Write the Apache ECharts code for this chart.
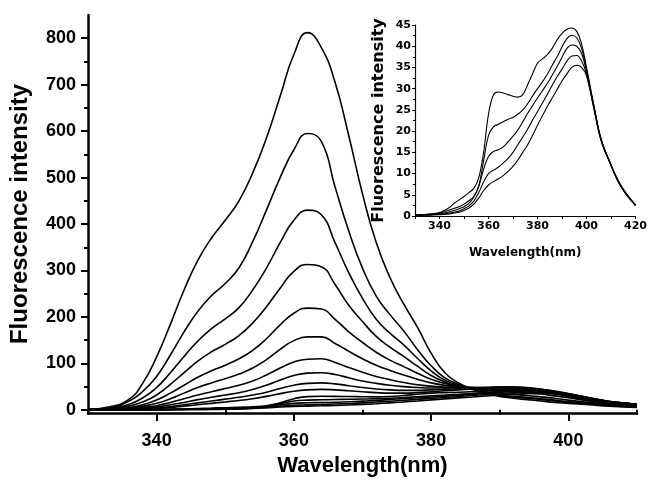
<!DOCTYPE html>
<html><head><meta charset="utf-8">
<script src="https://cdn.jsdelivr.net/npm/echarts@6/dist/echarts.min.js"></script>
<style>html,body{margin:0;padding:0;background:#fff}#c{width:650px;height:482px}</style>
</head><body><div id="c"></div>
<script>
// wavelength grid (nm)
const wavelengths = [330,333,336,338,340,342,344,346,348,350,352,354,356,358,360,362,364,366,368,370,372,374,376,378,380,382,384,386,388,390,392,394,396,398,400,403,406,410,413,416,420];

// main chart tick values
const mainYTicks = [0,100,200,300,400,500,600,700,800];
const mainYMinorTicks = [50,150,250,350,450,550,650,750];
const mainXTicks = [340,360,380,400];
const mainXMinorTicks = [330,350,370,390,410];
const insetXLabels = [340,360,380,400,420];

// low-concentration spectra (also shown in the inset)
const c1 = [0.1,0.2,0.2,0.3,0.3,0.4,0.5,0.7,0.9,1.3,1.9,2.8,4.2,6,7.3,8.1,8.7,9.5,10.5,11.7,13.2,15,16.8,19,21.4,23.6,25.8,27.8,29.8,31.8,33.5,35,35.5,35,33,25.3,17.6,11.9,8,5.2,2.5];
const c2 = [0.1,0.2,0.3,0.3,0.4,0.5,0.7,0.9,1.2,1.7,2.4,3.5,5.5,8,10,10.8,11.5,12.5,13.6,15,16.8,18.6,20.5,22.6,24.6,26.6,28.7,30.8,32.8,34.6,36.5,37.7,37.8,36.5,33.5,25.5,17.8,12,8,5.3,2.5];
const c3 = [0.2,0.3,0.3,0.4,0.5,0.7,1,1.3,1.7,2.2,3,4.5,7,11,14,15.2,15.6,16.3,17.5,18.8,20.3,22.2,24.2,26,27.8,29.5,31.2,33.2,35.2,37.4,39.5,40.3,40,38.3,34,25.8,18,12,8.1,5.3,2.5];
const c4 = [0.2,0.3,0.4,0.5,0.7,1,1.4,1.8,2.2,2.8,3.6,4.6,7,13,19,21,21.6,22.2,22.8,23.2,24,25,26.5,28.3,30,31.6,33.4,35.5,37.5,39.8,41.8,42.6,42,39.5,34.5,26,18,12,8.2,5.4,2.5];
const c5 = [0.2,0.3,0.5,0.6,0.8,1.3,2,3,3.8,4.6,5.5,6.5,9,15,24,28.5,29.2,29,28.6,28.2,28,28.6,31,33.5,36,37,38,39.5,41.5,43,44,44.3,43.5,40.5,35,26,18,12,8.3,5.5,2.6];
// higher-concentration spectra (main chart only, 330-410 nm)
const c6 = [0.2,0.5,1.2,2,3,5,8,11,14,17,20,24,29,35,40,43,44,43,41,39,37,36,36,37,39,41,43,45,47,48,48,47,44,39,33,25,17,10];
const c7 = [0.2,0.6,1.5,2.5,4,7,11,15,19,23,27,32,38,46,53,57,58,56,52,48,45,43,42,42,43,44,46,47,48,49,49,48,44,39,33,25,16,9];
const c8 = [0.2,0.8,2,3.5,6,11,16,22,27,32,37,44,53,64,74,79,80,76,69,62,57,53,50,48,47,47,48,48,48,49,49,47,43,38,32,24,16,9];
const c9 = [0.3,1,2.5,5,9,16,24,32,39,46,53,62,75,90,103,109,110,102,91,81,72,65,59,54,51,49,49,48,48,47,46,44,41,36,31,23,15,9];
const c10 = [0.3,1,3.5,8,14,24,36,48,58,67,77,90,108,130,149,157,157,143,126,110,96,85,75,66,58,53,50,48,46,44,43,41,38,34,29,21,14,8];
const c11 = [0.5,1.5,5,11,21,36,53,70,84,96,110,128,153,183,208,219,217,195,168,145,124,107,93,79,66,57,51,47,43,41,39,37,34,30,26,19,13,8];
const c12 = [0.5,2,8,17,32,55,80,105,125,141,160,187,222,262,298,313,308,270,225,190,158,135,115,94,74,60,51,45,39,35,33,31,28,25,21,16,11,7];
const c13 = [1,3,12,26,48,80,115,148,175,196,220,258,305,360,408,430,420,360,295,240,195,165,140,111,84,64,53,45,37,32,29,27,24,21,18,14,10,6];
const c14 = [1,4,19,40,72,118,168,212,246,272,306,362,430,500,560,595,578,480,385,305,245,205,170,130,95,69,55,45,36,30,27,25,22,19,16,12,9,6];
const c15 = [1,6,23,58,114,184,258,322,370,408,450,510,585,675,765,812,780,705,590,465,360,285,228,178,122,80,58,45,35,29,25,22,19,16,14,11,8,5];

const mainCurves = [c1,c2,c3,c4,c5,c6,c7,c8,c9,c10,c11,c12,c13,c14,c15];
const insetCurves = [c1,c2,c3,c4,c5];

function pairs(vals, n) { return vals.slice(0, n).map((v, i) => [wavelengths[i], v]); }

const AR = 'Liberation Sans';
const DJ = 'DejaVu Sans';
const black = '#000';

const series = [];
mainCurves.forEach((arr, k) => series.push({
  type: 'line', name: 'm' + k, xAxisIndex: 0, yAxisIndex: 0,
  data: pairs(arr, 38), showSymbol: false, symbol: 'none', smooth: 0.5,
  lineStyle: { color: black, width: 1.6 }, silent: true
}));
insetCurves.forEach((arr, k) => series.push({
  type: 'line', name: 'i' + k, xAxisIndex: 2, yAxisIndex: 2,
  data: pairs(arr, 41), showSymbol: false, symbol: 'none', smooth: 0.4,
  lineStyle: { color: black, width: 1.1 }, silent: true
}));

const chart = echarts.init(document.getElementById('c'), null, { renderer: 'canvas' });
chart.setOption({
  animation: false,
  backgroundColor: '#fff',
  grid: [
    { left: 88, right: 13, top: 15, bottom: 58 },
    { left: 415, right: 13, top: 25, bottom: 266 }
  ],
  xAxis: [
    { gridIndex: 0, type: 'value', min: 330, max: 410, position: 'bottom',
      axisLine: { onZero: false, lineStyle: { color: black, width: 2.5 } },
      axisTick: { customValues: mainXTicks, length: 8, lineStyle: { color: black, width: 2 } },
      axisLabel: { customValues: mainXTicks, fontFamily: AR, fontWeight: 'bold', fontSize: 18, color: black, margin: 19 },
      splitLine: { show: false },
      name: 'Wavelength(nm)', nameLocation: 'middle', nameGap: 35,
      nameTextStyle: { fontFamily: AR, fontWeight: 'bold', fontSize: 22, color: black } },
    { gridIndex: 0, type: 'value', min: 330, max: 410, position: 'bottom',
      axisLine: { show: false },
      axisTick: { customValues: mainXMinorTicks, length: 5, lineStyle: { color: black, width: 2 } },
      axisLabel: { show: false }, splitLine: { show: false } },
    { gridIndex: 1, type: 'value', min: 330, max: 420, interval: 10, position: 'bottom',
      axisLine: { onZero: false, lineStyle: { color: black, width: 1.2 } },
      axisTick: { length: 3, lineStyle: { color: black, width: 1 } },
      axisLabel: { customValues: insetXLabels, fontFamily: DJ, fontWeight: 'bold', fontSize: 11, color: black, margin: 5 },
      splitLine: { show: false },
      name: 'Wavelength(nm)', nameLocation: 'middle', nameGap: 31,
      nameTextStyle: { fontFamily: DJ, fontWeight: 'bold', fontSize: 12, color: black } }
  ],
  yAxis: [
    { gridIndex: 0, type: 'value', min: -7, max: 850, position: 'left',
      axisLine: { show: true, lineStyle: { color: black, width: 2.5 } },
      axisTick: { show: true, customValues: mainYTicks, length: 7, lineStyle: { color: black, width: 2 } },
      axisLabel: { customValues: mainYTicks, fontFamily: AR, fontWeight: 'bold', fontSize: 18, color: black, margin: 12 },
      splitLine: { show: false },
      name: 'Fluorescence intensity', nameLocation: 'middle', nameGap: 56,
      nameTextStyle: { fontFamily: AR, fontWeight: 'bold', fontSize: 24, color: black } },
    { gridIndex: 0, type: 'value', min: -7, max: 850, position: 'left',
      axisLine: { show: false },
      axisTick: { show: true, customValues: mainYMinorTicks, length: 4, lineStyle: { color: black, width: 2 } },
      axisLabel: { show: false }, splitLine: { show: false } },
    { gridIndex: 1, type: 'value', min: 0, max: 45, interval: 5, position: 'left',
      axisLine: { show: true, lineStyle: { color: black, width: 1.2 } },
      axisTick: { show: true, length: 3, lineStyle: { color: black, width: 1 } },
      minorTick: { show: true, splitNumber: 2, length: 2, lineStyle: { color: black, width: 1 } },
      axisLabel: { fontFamily: DJ, fontWeight: 'bold', fontSize: 11, color: black, margin: 4 },
      splitLine: { show: false },
      name: 'Fluorescence intensity', nameLocation: 'middle', nameGap: 28,
      nameTextStyle: { fontFamily: DJ, fontWeight: 'bold', fontSize: 16, color: black } }
  ],
  series: series
});
</script>
</body></html>
